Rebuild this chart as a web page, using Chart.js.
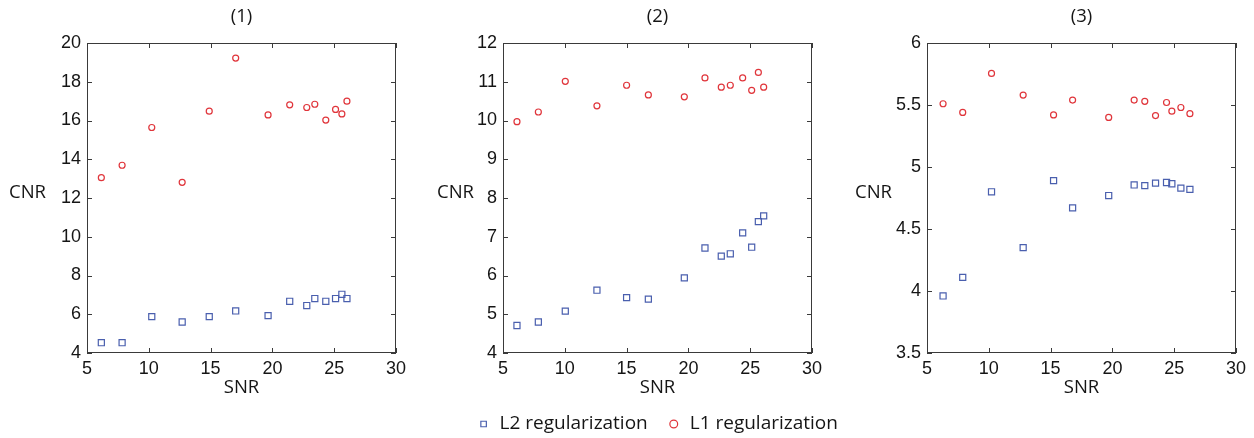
<!DOCTYPE html>
<html>
<head>
<meta charset="utf-8">
<title>CNR vs SNR</title>
<script src="https://cdn.jsdelivr.net/npm/chart.js@4.4.1/dist/chart.umd.min.js"></script>
<style>
  html, body { margin: 0; background: #fff; overflow: hidden; }
  #wrap { position: relative; width: 1254px; height: 438px; overflow: hidden; }
  canvas { position: absolute; top: 0; }
</style>
</head>
<body>
<div id="wrap">
  <canvas id="chart1" width="420" height="438" style="left:0px"></canvas>
  <canvas id="chart2" width="480" height="438" style="left:420px"></canvas>
  <canvas id="chart3" width="414" height="438" style="left:840px"></canvas>
</div>
<script>
// ====== Data ======
const xTicks = [5, 10, 15, 20, 25, 30];

// panel (1)
const snr1 = [6.16, 7.84, 10.24, 12.7, 14.89, 17.03, 19.65, 21.4, 22.78, 23.43, 24.32, 25.11, 25.62, 26.03];
const l2cnr1 = [4.53, 4.53, 5.88, 5.6, 5.88, 6.17, 5.93, 6.67, 6.45, 6.81, 6.67, 6.81, 7.03, 6.81];
const l1cnr1 = [13.05, 13.69, 15.64, 12.81, 16.48, 19.22, 16.29, 16.81, 16.67, 16.84, 16.02, 16.57, 16.34, 17.0];
const yTicks1 = [4, 6, 8, 10, 12, 14, 16, 18, 20];

// panel (2)
const snr2 = [6.13, 7.86, 10.04, 12.6, 15.0, 16.76, 19.67, 21.34, 22.66, 23.39, 24.39, 25.12, 25.66, 26.09];
const l2cnr2 = [4.71, 4.8, 5.08, 5.62, 5.43, 5.39, 5.94, 6.71, 6.5, 6.56, 7.1, 6.73, 7.39, 7.54];
const l1cnr2 = [9.97, 10.22, 11.01, 10.38, 10.91, 10.66, 10.61, 11.1, 10.86, 10.91, 11.1, 10.78, 11.24, 10.86];
const yTicks2 = [4, 5, 6, 7, 8, 9, 10, 11, 12];

// panel (3)
const snr3 = [6.3, 7.89, 10.22, 12.78, 15.24, 16.78, 19.7, 21.76, 22.62, 23.49, 24.38, 24.81, 25.54, 26.27];
const l2cnr3 = [3.96, 4.11, 4.8, 4.35, 4.89, 4.67, 4.77, 4.855, 4.85, 4.87, 4.875, 4.865, 4.83, 4.82];
const l1cnr3 = [5.51, 5.44, 5.755, 5.58, 5.42, 5.54, 5.4, 5.54, 5.53, 5.415, 5.52, 5.45, 5.48, 5.43];
const yTicks3 = [3.5, 4, 4.5, 5, 5.5, 6];

// ====== Styles ======
const BLUE = "#4a5fae";
const RED = "#e0353b";
const TEXT = "#151515";
const tickFont = { family: "'Liberation Sans', Arial, sans-serif", size: 18 };
const labelFont = { family: "'Open Sans', Lato, sans-serif", size: 18.5, weight: "normal" };
const legendFont = { family: "'Open Sans', Lato, sans-serif", size: 19, weight: "normal" };

// ====== Box frame, inward ticks and horizontal CNR label ======
const framePlugin = {
  id: "frame",
  beforeDatasetsDraw(chart, args, opts) {
    const { ctx, chartArea: a, scales } = chart;
    const x = scales.x, y = scales.y;
    ctx.save();
    ctx.strokeStyle = "#3a3a3a";
    ctx.lineWidth = 1;
    ctx.strokeRect(a.left + 0.5, a.top + 0.5, a.width - 1, a.height - 1);
    ctx.beginPath();
    x.ticks.forEach(t => {
      const px = Math.round(x.getPixelForValue(t.value)) + 0.5;
      ctx.moveTo(px, a.bottom); ctx.lineTo(px, a.bottom - 5);
      ctx.moveTo(px, a.top); ctx.lineTo(px, a.top + 5);
    });
    y.ticks.forEach(t => {
      const py = Math.round(y.getPixelForValue(t.value)) + 0.5;
      ctx.moveTo(a.left, py); ctx.lineTo(a.left + 5, py);
      ctx.moveTo(a.right, py); ctx.lineTo(a.right - 5, py);
    });
    ctx.stroke();

    ctx.fillStyle = TEXT;
    ctx.font = `${labelFont.size}px ${labelFont.family}`;
    ctx.textAlign = "center";
    ctx.textBaseline = "middle";
    ctx.fillText("CNR", a.left + opts.cnrX, opts.cnrY);
    ctx.restore();
  }
};

// ====== Build one panel ======
function makePanel(id, cfg) {
  const fmt = v => String(Math.round(v * 100) / 100);
  return new Chart(document.getElementById(id), {
    type: "scatter",
    data: {
      datasets: [
        {
          label: "L2 regularization",
          data: cfg.snr.map((v, i) => ({ x: v, y: cfg.l2[i] })),
          pointStyle: "rect",
          pointRadius: 4.3,
          pointBorderWidth: 1.2,
          borderColor: BLUE,
          backgroundColor: "rgba(0,0,0,0)"
        },
        {
          label: "L1 regularization",
          data: cfg.snr.map((v, i) => ({ x: v, y: cfg.l1[i] })),
          pointStyle: "circle",
          pointRadius: 3,
          pointBorderWidth: 1.2,
          borderColor: RED,
          backgroundColor: "rgba(0,0,0,0)"
        }
      ]
    },
    options: {
      responsive: false,
      animation: false,
      layout: { padding: cfg.padding },
      plugins: {
        title: {
          display: true,
          text: cfg.title,
          fullSize: false,
          font: labelFont,
          color: TEXT,
          padding: { top: 5.9, bottom: 14.9 }
        },
        legend: {
          display: cfg.legend,
          position: "bottom",
          maxHeight: 43,
          labels: {
            usePointStyle: true,
            boxWidth: 13,
            boxHeight: 5.5,
            padding: 19.5,
            font: legendFont,
            color: TEXT
          }
        },
        tooltip: { enabled: false },
        frame: { cnrX: cfg.cnrX, cnrY: 193 }
      },
      scales: {
        x: {
          type: "linear",
          position: "bottom",
          min: 5,
          max: 30,
          afterBuildTicks: s => { s.ticks = xTicks.map(v => ({ value: v })); },
          afterFit: s => { s.height = 42; },
          grid: { display: false, drawTicks: false },
          border: { display: false },
          ticks: { font: tickFont, color: TEXT, padding: 5, callback: fmt },
          title: { display: true, text: "SNR", font: labelFont, color: TEXT, padding: { top: 0, bottom: -4.1 } }
        },
        y: {
          type: "linear",
          position: "left",
          min: cfg.yTicks[0],
          max: cfg.yTicks[cfg.yTicks.length - 1],
          afterBuildTicks: s => { s.ticks = cfg.yTicks.map(v => ({ value: v })); },
          afterFit: s => { s.width = 60; },
          grid: { display: false, drawTicks: false },
          border: { display: false },
          ticks: { font: tickFont, color: TEXT, padding: 6, callback: fmt }
        },
        y2: {
          type: "linear",
          position: "right",
          display: cfg.legend,
          afterFit: s => { s.width = cfg.legend ? 60 : 0; },
          grid: { display: false, drawTicks: false },
          border: { display: false },
          ticks: { display: false }
        }
      }
    },
    plugins: [framePlugin]
  });
}

// ====== Render ======
makePanel("chart1", {
  title: "(1)", snr: snr1, l2: l2cnr1, l1: l1cnr1, yTicks: yTicks1,
  legend: false, cnrX: -59.5,
  padding: { left: 27, right: 24, top: 0, bottom: 43 }
});
makePanel("chart2", {
  title: "(2)", snr: snr2, l2: l2cnr2, l1: l1cnr2, yTicks: yTicks2,
  legend: true, cnrX: -47.5,
  padding: { left: 23, right: 28, top: 0, bottom: 0 }
});
makePanel("chart3", {
  title: "(3)", snr: snr3, l2: l2cnr3, l1: l1cnr3, yTicks: yTicks3,
  legend: false, cnrX: -53.5,
  padding: { left: 27, right: 18, top: 0, bottom: 43 }
});
</script>
</body>
</html>
